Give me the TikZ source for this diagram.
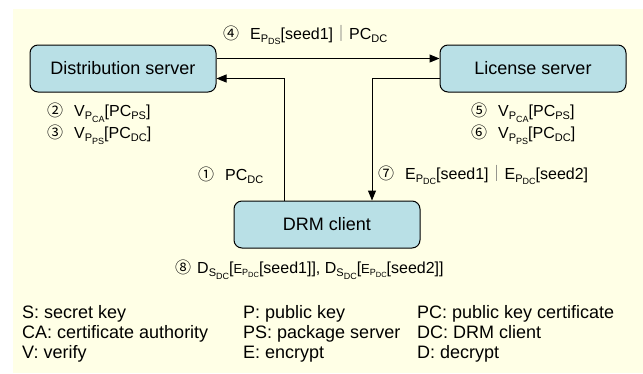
\documentclass[tikz,border=0pt]{standalone}
\usepackage{fontspec}
\setmainfont{Liberation Sans}
\newfontfamily\cjk{Noto Sans CJK SC}
\usetikzlibrary{arrows.meta,calc}
\definecolor{bgcol}{HTML}{FFFFE6}
\definecolor{boxcol}{HTML}{B9E0E6}
\newcommand{\sbA}[1]{\raisebox{-3pt}{\fontsize{11}{11}\selectfont #1}}
\newcommand{\sbB}[1]{\raisebox{-2.5pt}{\fontsize{9}{9}\selectfont #1}}
\newcommand{\sbC}[1]{\raisebox{-2pt}{\fontsize{9}{9}\selectfont #1}}
\newcommand{\sbD}[1]{\raisebox{-2pt}{\fontsize{7.5}{7.5}\selectfont #1}}
\newcommand{\cd}[2][11pt]{{\cjk\fontsize{16}{16}\selectfont #2}\hspace{#1}}
\newcommand{\vbar}{{\cjk\fontsize{16}{16}\selectfont\color{black!60}｜}}
\newcommand{\sE}{{\fontsize{13}{13}\selectfont E\sbC{P\sbD{DC}}}}
\tikzset{
  box/.style={draw, line width=1pt, fill=boxcol, rounded corners=8pt,
    minimum width=186pt, minimum height=47pt, inner sep=0pt,
    font=\fontsize{18}{18}\selectfont},
  lbl/.style={anchor=west, inner sep=0pt, font=\fontsize{16}{16}\selectfont},
  leg/.style={anchor=base west, inner sep=0pt, font=\fontsize{18}{18}\selectfont},
  conn/.style={line width=1pt, -{Triangle[length=10pt,width=8pt]}}
}
\begin{document}
\begin{tikzpicture}[x=1pt,y=-1pt]
\useasboundingbox (0,0) rectangle (643,373);
\fill[bgcol] (13,9) rectangle (643,373);
\node[box] (ds) at (123,68.5) {Distribution server};
\node[box] (ls) at (533,68.5) {License server};
\node[box] (drm) at (327,224.5) {DRM client};
\draw[conn] ([yshift=10pt]ds.east) -- ([yshift=10pt]ls.west);
\draw[conn] ([xshift=-43pt]drm.north) |- ([yshift=-10pt]ds.east);
\draw[conn] ([yshift=-10pt]ls.west) -| ([xshift=45pt]drm.north);
\node[lbl] (l4) at (223,35) {\cd{④}E\sbA{P\sbB{DS}}[seed1]\vbar PC\sbA{DC}};
\node[lbl] (l2) at (47,113) {\cd{②}V\sbA{P\sbB{CA}}[PC\sbA{PS}]};
\node[lbl] (l3) at (47,135) {\cd{③}V\sbA{P\sbB{PS}}[PC\sbA{DC}]};
\node[lbl] (l5) at (471,113) {\cd{⑤}V\sbA{P\sbB{CA}}[PC\sbA{PS}]};
\node[lbl] (l6) at (471,135) {\cd{⑥}V\sbA{P\sbB{PS}}[PC\sbA{DC}]};
\node[lbl] (l1) at (198,175) {\cd{①}PC\sbA{DC}};
\node[lbl] (l7) at (378,175) {\cd{⑦}E\sbA{P\sbB{DC}}[seed1]\vbar E\sbA{P\sbB{DC}}[seed2]};
\node[lbl] (l8) at (175,270) {\cd[6pt]{⑧}D\sbA{S\sbB{DC}}[\sE[seed1]], D\sbA{S\sbB{DC}}[\sE[seed2]]};
\node[leg] (a1) at (22,318) {S: secret key};
\node[leg] (a2) at (22,338) {CA: certificate authority};
\node[leg] (a3) at (22,358) {V: verify};
\node[leg] (b1) at (243,318) {P: public key};
\node[leg] (b2) at (243,338) {PS: package server};
\node[leg] (b3) at (243,358) {E: encrypt};
\node[leg] (c1) at (417,318) {PC: public key certificate};
\node[leg] (c2) at (417,338) {DC: DRM client};
\node[leg] (c3) at (417,358) {D: decrypt};
\end{tikzpicture}
\end{document}
